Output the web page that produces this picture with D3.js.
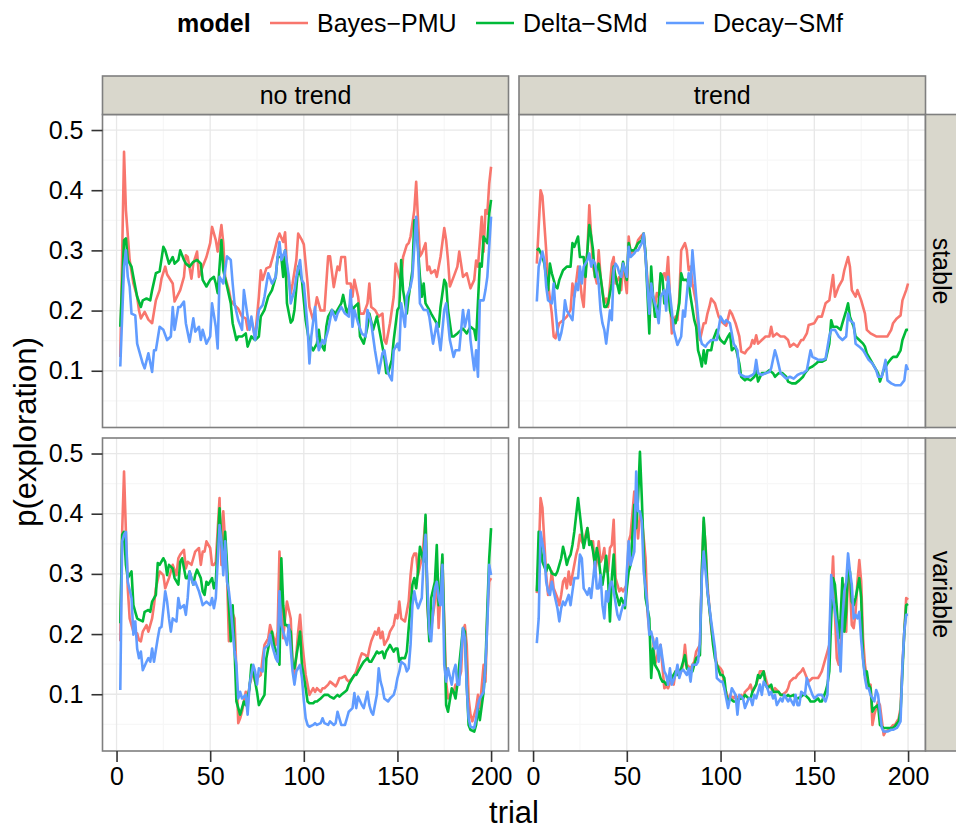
<!DOCTYPE html>
<html><head><meta charset="utf-8">
<script src="https://cdn.jsdelivr.net/npm/d3@7"></script>
<style>
body{margin:0;background:#fff}
text{font-family:"Liberation Sans",Arial,Helvetica,sans-serif}
</style>
</head><body>
<svg id="chart" width="956" height="829"></svg>
<script>
// ---------- categories / labels ----------
const models = ["Bayes\u2212PMU","Delta\u2212SMd","Decay\u2212SMf"];
const modelColors = ["#F8766D","#00BA38","#619CFF"];
const trendLevels = ["no trend","trend"];
const noiseLevels = ["stable","variable"];
const xTicks = [0,50,100,150,200];
const yTicks = [0.1,0.2,0.3,0.4,0.5];
const xMinor = [25,75,125,175];
const yMinor = [0.05,0.15,0.25,0.35,0.45];

// ---------- series: [trial, p(exploration)] ----------
// no trend / stable
const noTrendStableBayes = [[2,0.123],[4,0.464],[5,0.367],[7,0.284],[9,0.245],[11,0.223],[12,0.200],[13,0.187],[15,0.198],[17,0.185],[19,0.179],[21,0.217],[23,0.234],[24,0.253],[26,0.273],[27,0.260],[30,0.245],[31,0.215],[34,0.234],[36,0.256],[37,0.292],[38,0.289],[40,0.253],[41,0.278],[43,0.298],[44,0.256],[46,0.273],[48,0.289],[50,0.312],[51,0.339],[53,0.317],[54,0.298],[56,0.342],[57,0.312],[58,0.256],[60,0.234],[61,0.217],[63,0.209],[65,0.203],[67,0.190],[69,0.187],[70,0.168],[72,0.184],[74,0.156],[76,0.223],[77,0.267],[78,0.251],[80,0.270],[82,0.273],[84,0.295],[86,0.320],[87,0.328],[89,0.314],[90,0.330],[91,0.273],[93,0.228],[94,0.245],[96,0.284],[97,0.328],[99,0.317],[100,0.310],[102,0.245],[103,0.206],[105,0.184],[107,0.222],[109,0.200],[111,0.200],[113,0.290],[114,0.290],[116,0.239],[118,0.273],[119,0.267],[120,0.289],[122,0.289],[123,0.245],[125,0.245],[126,0.223],[127,0.251],[129,0.223],[130,0.195],[132,0.195],[134,0.212],[135,0.245],[136,0.206],[138,0.201],[140,0.190],[142,0.195],[143,0.151],[144,0.145],[146,0.179],[148,0.223],[149,0.278],[151,0.256],[152,0.245],[153,0.289],[155,0.309],[156,0.312],[157,0.323],[159,0.367],[160,0.414],[161,0.350],[162,0.290],[163,0.295],[165,0.312],[166,0.267],[167,0.273],[168,0.262],[170,0.267],[171,0.256],[173,0.289],[175,0.337],[176,0.317],[177,0.284],[178,0.240],[180,0.256],[182,0.273],[183,0.298],[185,0.256],[187,0.262],[189,0.237],[191,0.251],[192,0.283],[193,0.273],[195,0.356],[196,0.298],[197,0.367],[198,0.361],[199,0.411],[200,0.439]];
const noTrendStableDelta = [[2,0.173],[4,0.317],[5,0.320],[6,0.284],[8,0.273],[9,0.256],[11,0.223],[13,0.206],[14,0.217],[16,0.220],[18,0.217],[19,0.234],[21,0.262],[23,0.265],[25,0.306],[26,0.300],[28,0.278],[30,0.289],[31,0.278],[33,0.284],[34,0.300],[36,0.284],[37,0.278],[39,0.273],[41,0.281],[43,0.284],[45,0.278],[46,0.251],[48,0.240],[50,0.251],[52,0.256],[53,0.245],[54,0.229],[56,0.317],[57,0.267],[59,0.240],[61,0.212],[62,0.179],[64,0.151],[65,0.157],[67,0.157],[69,0.162],[70,0.140],[72,0.157],[74,0.151],[76,0.157],[77,0.190],[79,0.201],[81,0.223],[83,0.234],[85,0.256],[86,0.289],[88,0.289],[89,0.256],[90,0.300],[91,0.212],[93,0.180],[94,0.184],[95,0.201],[97,0.273],[99,0.250],[101,0.184],[103,0.145],[105,0.134],[107,0.145],[108,0.168],[109,0.145],[111,0.134],[112,0.173],[113,0.190],[115,0.201],[117,0.195],[118,0.201],[120,0.212],[121,0.226],[123,0.195],[125,0.212],[126,0.201],[127,0.206],[129,0.212],[130,0.157],[132,0.145],[134,0.173],[135,0.195],[137,0.168],[139,0.190],[141,0.157],[143,0.123],[144,0.096],[145,0.096],[147,0.118],[148,0.151],[150,0.201],[151,0.206],[152,0.284],[153,0.234],[155,0.195],[156,0.223],[157,0.245],[158,0.267],[159,0.350],[160,0.350],[162,0.256],[163,0.223],[164,0.245],[165,0.212],[167,0.201],[168,0.195],[170,0.184],[172,0.173],[173,0.206],[175,0.251],[176,0.245],[177,0.201],[179,0.157],[180,0.157],[182,0.162],[184,0.168],[185,0.170],[187,0.162],[189,0.173],[191,0.168],[192,0.151],[194,0.278],[195,0.273],[196,0.323],[198,0.312],[199,0.361],[200,0.384]];
const noTrendStableDecay = [[2,0.107],[4,0.273],[5,0.300],[6,0.256],[7,0.240],[8,0.195],[10,0.192],[11,0.145],[12,0.134],[14,0.112],[15,0.104],[17,0.129],[19,0.098],[20,0.134],[21,0.134],[23,0.173],[25,0.168],[27,0.151],[29,0.157],[30,0.206],[31,0.168],[33,0.206],[34,0.206],[36,0.215],[37,0.179],[39,0.148],[41,0.187],[42,0.165],[44,0.173],[45,0.151],[46,0.168],[48,0.145],[50,0.157],[51,0.212],[53,0.173],[54,0.137],[55,0.256],[57,0.245],[59,0.290],[61,0.284],[62,0.245],[63,0.212],[65,0.184],[67,0.168],[68,0.234],[70,0.190],[71,0.168],[72,0.190],[74,0.151],[76,0.201],[78,0.209],[79,0.223],[81,0.262],[83,0.245],[85,0.256],[86,0.290],[87,0.314],[88,0.284],[90,0.300],[92,0.256],[93,0.212],[95,0.234],[96,0.256],[98,0.284],[99,0.250],[100,0.245],[102,0.173],[103,0.112],[104,0.157],[106,0.206],[107,0.157],[108,0.134],[110,0.151],[111,0.145],[113,0.168],[115,0.201],[117,0.184],[118,0.195],[120,0.206],[122,0.195],[124,0.190],[125,0.234],[126,0.173],[127,0.201],[129,0.179],[131,0.162],[133,0.157],[134,0.201],[136,0.179],[138,0.134],[140,0.096],[142,0.129],[143,0.134],[145,0.096],[147,0.084],[148,0.134],[150,0.145],[151,0.134],[152,0.212],[154,0.173],[155,0.223],[157,0.240],[158,0.256],[160,0.356],[161,0.300],[162,0.212],[164,0.201],[166,0.201],[167,0.190],[169,0.145],[171,0.179],[173,0.134],[175,0.201],[176,0.212],[178,0.151],[180,0.123],[181,0.134],[183,0.134],[185,0.201],[186,0.173],[188,0.201],[189,0.151],[191,0.101],[192,0.134],[193,0.090],[194,0.217],[196,0.217],[197,0.234],[198,0.256],[200,0.356]];

// trend / stable
const trendStableBayes = [[2,0.278],[4,0.400],[5,0.390],[6,0.345],[7,0.300],[8,0.245],[10,0.195],[11,0.157],[12,0.154],[13,0.168],[14,0.179],[16,0.184],[18,0.190],[20,0.201],[21,0.245],[22,0.223],[24,0.273],[25,0.251],[26,0.223],[27,0.206],[28,0.267],[29,0.300],[30,0.375],[31,0.323],[32,0.273],[34,0.245],[35,0.300],[36,0.256],[38,0.212],[39,0.220],[40,0.206],[42,0.278],[43,0.289],[44,0.245],[46,0.256],[47,0.234],[48,0.278],[50,0.229],[51,0.323],[52,0.295],[54,0.300],[55,0.306],[56,0.317],[58,0.325],[59,0.328],[60,0.289],[62,0.217],[63,0.245],[64,0.223],[65,0.206],[66,0.229],[67,0.223],[68,0.256],[70,0.262],[71,0.251],[72,0.289],[73,0.223],[74,0.162],[76,0.190],[77,0.184],[78,0.223],[79,0.300],[81,0.312],[82,0.300],[83,0.267],[84,0.273],[85,0.245],[87,0.212],[88,0.173],[89,0.151],[91,0.179],[92,0.179],[93,0.195],[94,0.206],[95,0.220],[97,0.212],[99,0.190],[101,0.180],[103,0.175],[105,0.200],[106,0.195],[108,0.179],[110,0.157],[111,0.132],[113,0.129],[114,0.134],[116,0.140],[117,0.151],[118,0.145],[119,0.159],[120,0.145],[122,0.151],[124,0.157],[126,0.157],[127,0.173],[128,0.157],[130,0.162],[132,0.157],[134,0.157],[136,0.151],[137,0.140],[139,0.145],[141,0.140],[143,0.151],[144,0.151],[146,0.162],[147,0.176],[150,0.179],[152,0.190],[154,0.190],[156,0.212],[158,0.217],[160,0.259],[161,0.223],[163,0.240],[165,0.251],[166,0.267],[168,0.289],[169,0.273],[170,0.234],[172,0.223],[173,0.234],[175,0.217],[177,0.195],[178,0.168],[180,0.162],[183,0.157],[185,0.157],[189,0.157],[191,0.168],[192,0.179],[194,0.187],[196,0.192],[197,0.217],[199,0.234],[200,0.245]];
const trendStableDelta = [[2,0.300],[3,0.303],[5,0.289],[6,0.278],[7,0.256],[8,0.234],[9,0.278],[10,0.262],[12,0.240],[13,0.237],[14,0.251],[16,0.267],[17,0.270],[18,0.273],[20,0.273],[21,0.312],[22,0.306],[24,0.323],[25,0.289],[27,0.289],[28,0.256],[29,0.300],[30,0.342],[31,0.323],[32,0.300],[33,0.256],[35,0.278],[36,0.256],[38,0.206],[39,0.206],[40,0.212],[42,0.245],[43,0.273],[44,0.256],[46,0.229],[47,0.262],[48,0.281],[50,0.251],[51,0.312],[52,0.300],[54,0.300],[55,0.306],[56,0.312],[58,0.317],[59,0.328],[60,0.295],[62,0.162],[63,0.273],[64,0.223],[65,0.190],[66,0.190],[67,0.212],[68,0.262],[69,0.256],[70,0.212],[72,0.245],[73,0.201],[74,0.190],[76,0.179],[78,0.212],[79,0.262],[80,0.251],[82,0.251],[83,0.245],[84,0.223],[86,0.184],[87,0.173],[88,0.134],[89,0.123],[90,0.107],[91,0.134],[92,0.112],[93,0.134],[95,0.134],[96,0.151],[98,0.168],[99,0.157],[100,0.151],[102,0.145],[104,0.157],[105,0.162],[106,0.134],[108,0.140],[110,0.112],[111,0.090],[113,0.084],[114,0.087],[116,0.084],[118,0.090],[119,0.101],[120,0.082],[122,0.096],[124,0.096],[126,0.101],[128,0.096],[129,0.090],[131,0.096],[133,0.096],[135,0.090],[136,0.082],[138,0.079],[140,0.079],[142,0.084],[144,0.090],[145,0.096],[147,0.104],[149,0.107],[151,0.112],[152,0.115],[154,0.115],[156,0.118],[158,0.145],[159,0.184],[160,0.173],[162,0.173],[164,0.168],[165,0.179],[167,0.200],[168,0.212],[169,0.190],[171,0.173],[172,0.157],[174,0.151],[176,0.145],[177,0.140],[178,0.129],[180,0.118],[182,0.107],[184,0.096],[185,0.082],[187,0.101],[189,0.112],[191,0.120],[192,0.123],[194,0.123],[196,0.134],[197,0.151],[199,0.168],[200,0.168]];
const trendStableDecay = [[2,0.215],[3,0.273],[5,0.298],[6,0.284],[7,0.240],[8,0.217],[10,0.212],[11,0.245],[12,0.201],[13,0.168],[14,0.151],[15,0.162],[16,0.179],[17,0.217],[18,0.200],[19,0.195],[21,0.184],[22,0.223],[23,0.245],[24,0.234],[25,0.273],[26,0.245],[27,0.273],[29,0.284],[30,0.295],[31,0.273],[32,0.284],[33,0.278],[35,0.245],[36,0.200],[37,0.179],[38,0.168],[39,0.145],[41,0.200],[42,0.184],[43,0.267],[44,0.278],[45,0.273],[46,0.262],[47,0.256],[48,0.278],[50,0.256],[51,0.306],[52,0.289],[54,0.295],[55,0.300],[56,0.300],[58,0.312],[59,0.328],[60,0.289],[62,0.195],[63,0.245],[64,0.223],[66,0.200],[67,0.179],[68,0.223],[70,0.234],[71,0.200],[72,0.256],[74,0.200],[75,0.168],[77,0.143],[79,0.157],[80,0.200],[81,0.190],[83,0.262],[84,0.240],[85,0.300],[87,0.223],[88,0.190],[89,0.157],[90,0.145],[92,0.140],[93,0.145],[95,0.151],[98,0.151],[100,0.190],[102,0.179],[103,0.184],[105,0.179],[107,0.145],[109,0.134],[110,0.096],[111,0.093],[113,0.090],[115,0.090],[117,0.093],[118,0.096],[119,0.118],[120,0.096],[122,0.093],[124,0.096],[126,0.098],[127,0.104],[129,0.134],[130,0.123],[132,0.096],[134,0.090],[135,0.087],[137,0.090],[139,0.087],[141,0.093],[143,0.096],[144,0.096],[146,0.101],[148,0.134],[149,0.123],[151,0.120],[152,0.118],[154,0.118],[156,0.120],[158,0.157],[159,0.168],[161,0.168],[163,0.157],[165,0.151],[167,0.157],[168,0.195],[169,0.184],[171,0.179],[172,0.145],[174,0.140],[176,0.134],[177,0.129],[179,0.118],[181,0.112],[183,0.101],[184,0.090],[186,0.090],[188,0.118],[189,0.084],[191,0.079],[193,0.076],[196,0.076],[198,0.084],[199,0.109],[200,0.101]];

// no trend / variable
const noTrendVariableBayes = [[2,0.188],[3,0.370],[4,0.470],[5,0.370],[6,0.276],[7,0.226],[9,0.204],[11,0.201],[12,0.190],[13,0.188],[14,0.204],[16,0.215],[17,0.204],[19,0.226],[20,0.248],[21,0.276],[23,0.304],[25,0.298],[26,0.276],[28,0.293],[29,0.304],[30,0.315],[32,0.298],[33,0.326],[34,0.332],[36,0.340],[37,0.309],[38,0.320],[40,0.315],[41,0.326],[42,0.337],[44,0.343],[45,0.315],[46,0.337],[47,0.337],[48,0.354],[50,0.343],[51,0.315],[52,0.315],[53,0.320],[55,0.426],[56,0.315],[57,0.404],[59,0.298],[60,0.188],[61,0.243],[63,0.226],[64,0.138],[65,0.052],[66,0.060],[67,0.071],[69,0.104],[70,0.077],[71,0.116],[73,0.138],[74,0.121],[75,0.127],[77,0.132],[78,0.160],[79,0.182],[81,0.193],[82,0.215],[83,0.204],[85,0.182],[86,0.204],[87,0.337],[89,0.193],[90,0.226],[91,0.254],[93,0.226],[94,0.149],[95,0.127],[97,0.204],[98,0.232],[99,0.190],[101,0.132],[102,0.116],[103,0.099],[105,0.110],[106,0.104],[107,0.110],[109,0.104],[110,0.110],[111,0.110],[113,0.116],[114,0.121],[116,0.116],[117,0.113],[118,0.119],[119,0.127],[120,0.127],[122,0.130],[123,0.124],[124,0.121],[126,0.127],[127,0.132],[128,0.138],[130,0.160],[131,0.168],[133,0.165],[134,0.160],[135,0.176],[136,0.188],[138,0.204],[139,0.199],[140,0.210],[141,0.193],[142,0.204],[143,0.182],[145,0.193],[146,0.204],[148,0.215],[149,0.232],[150,0.226],[151,0.254],[152,0.226],[154,0.221],[155,0.237],[156,0.254],[157,0.298],[158,0.326],[159,0.334],[160,0.334],[161,0.298],[163,0.326],[164,0.354],[165,0.393],[166,0.248],[167,0.199],[168,0.210],[170,0.254],[171,0.309],[172,0.210],[173,0.271],[174,0.326],[176,0.121],[177,0.093],[178,0.099],[180,0.104],[181,0.116],[182,0.116],[184,0.138],[185,0.204],[186,0.215],[187,0.182],[188,0.093],[189,0.066],[190,0.055],[192,0.077],[193,0.099],[194,0.077],[196,0.149],[197,0.121],[198,0.232],[199,0.287],[200,0.293]];
const noTrendVariableDelta = [[2,0.218],[3,0.365],[4,0.370],[5,0.315],[6,0.293],[8,0.304],[9,0.248],[10,0.237],[11,0.226],[12,0.224],[14,0.221],[15,0.237],[17,0.240],[18,0.237],[19,0.254],[21,0.265],[22,0.318],[23,0.315],[25,0.326],[26,0.320],[27,0.298],[28,0.315],[30,0.309],[31,0.293],[33,0.282],[34,0.320],[35,0.326],[37,0.293],[38,0.293],[39,0.304],[41,0.282],[42,0.298],[43,0.307],[45,0.293],[46,0.271],[47,0.265],[48,0.287],[49,0.282],[51,0.293],[52,0.276],[53,0.287],[55,0.409],[56,0.354],[57,0.326],[58,0.370],[59,0.315],[60,0.248],[61,0.188],[62,0.248],[63,0.176],[64,0.088],[66,0.066],[67,0.077],[68,0.088],[69,0.082],[71,0.110],[72,0.149],[73,0.138],[75,0.104],[76,0.082],[77,0.088],[79,0.099],[80,0.160],[82,0.193],[83,0.204],[84,0.182],[86,0.165],[87,0.149],[88,0.326],[89,0.248],[90,0.215],[91,0.215],[93,0.204],[94,0.149],[95,0.143],[97,0.182],[98,0.204],[99,0.149],[101,0.110],[102,0.088],[103,0.085],[105,0.085],[106,0.088],[107,0.088],[109,0.093],[110,0.096],[111,0.099],[113,0.099],[114,0.096],[116,0.093],[117,0.096],[118,0.099],[119,0.096],[120,0.099],[122,0.104],[123,0.107],[124,0.116],[126,0.127],[127,0.132],[128,0.132],[129,0.138],[131,0.149],[132,0.154],[134,0.160],[135,0.154],[136,0.154],[138,0.165],[139,0.171],[140,0.168],[142,0.171],[143,0.160],[144,0.171],[145,0.176],[146,0.182],[148,0.171],[149,0.176],[150,0.176],[151,0.154],[152,0.160],[154,0.160],[155,0.171],[156,0.210],[158,0.282],[159,0.293],[160,0.276],[161,0.304],[162,0.345],[164,0.320],[165,0.398],[166,0.254],[167,0.188],[168,0.260],[170,0.287],[171,0.348],[172,0.248],[173,0.271],[174,0.332],[175,0.204],[176,0.082],[177,0.071],[179,0.110],[180,0.104],[181,0.093],[182,0.116],[183,0.149],[185,0.210],[186,0.204],[187,0.116],[188,0.049],[189,0.041],[191,0.038],[192,0.049],[193,0.077],[194,0.057],[196,0.104],[197,0.149],[198,0.243],[199,0.326],[200,0.376]];
const noTrendVariableDecay = [[2,0.107],[3,0.354],[4,0.365],[5,0.370],[6,0.287],[8,0.260],[9,0.199],[10,0.221],[11,0.176],[12,0.160],[13,0.171],[14,0.140],[16,0.154],[17,0.160],[18,0.154],[19,0.176],[20,0.154],[22,0.193],[23,0.210],[24,0.212],[26,0.271],[27,0.254],[28,0.226],[29,0.204],[30,0.226],[32,0.221],[33,0.260],[34,0.243],[36,0.248],[37,0.232],[38,0.260],[39,0.304],[41,0.282],[42,0.287],[44,0.271],[45,0.260],[46,0.248],[48,0.254],[50,0.248],[51,0.260],[52,0.243],[53,0.260],[55,0.381],[56,0.354],[57,0.298],[58,0.354],[59,0.287],[60,0.271],[61,0.243],[63,0.171],[64,0.149],[65,0.093],[66,0.104],[67,0.093],[69,0.099],[70,0.066],[71,0.116],[73,0.149],[74,0.138],[75,0.116],[76,0.143],[78,0.138],[79,0.176],[81,0.182],[82,0.199],[83,0.182],[85,0.160],[86,0.154],[87,0.271],[88,0.215],[89,0.204],[91,0.182],[92,0.215],[94,0.138],[95,0.116],[96,0.138],[98,0.149],[99,0.127],[100,0.090],[101,0.060],[102,0.049],[103,0.046],[105,0.049],[106,0.052],[107,0.049],[109,0.052],[110,0.060],[111,0.052],[113,0.049],[114,0.055],[116,0.049],[117,0.052],[118,0.071],[119,0.060],[120,0.049],[122,0.049],[123,0.060],[124,0.071],[126,0.077],[127,0.102],[128,0.077],[129,0.096],[131,0.082],[132,0.077],[134,0.104],[135,0.082],[136,0.071],[137,0.066],[139,0.099],[140,0.143],[141,0.121],[142,0.110],[143,0.093],[145,0.088],[146,0.093],[148,0.099],[149,0.110],[150,0.127],[151,0.138],[152,0.154],[154,0.149],[155,0.138],[156,0.143],[157,0.182],[158,0.248],[159,0.271],[160,0.254],[161,0.243],[163,0.260],[164,0.326],[165,0.365],[166,0.282],[167,0.204],[168,0.188],[169,0.237],[170,0.276],[171,0.287],[172,0.260],[173,0.248],[174,0.315],[175,0.149],[176,0.121],[177,0.143],[179,0.116],[180,0.138],[181,0.149],[182,0.116],[183,0.116],[185,0.210],[186,0.193],[187,0.110],[188,0.060],[189,0.046],[191,0.044],[192,0.060],[193,0.082],[194,0.093],[196,0.104],[197,0.149],[198,0.215],[199,0.315],[200,0.298]];

// trend / variable
const trendVariableBayes = [[2,0.268],[3,0.326],[4,0.426],[5,0.410],[6,0.354],[7,0.298],[8,0.265],[9,0.276],[10,0.304],[11,0.276],[13,0.260],[14,0.248],[15,0.265],[16,0.287],[17,0.293],[18,0.276],[19,0.304],[20,0.282],[22,0.315],[23,0.332],[24,0.343],[25,0.365],[26,0.354],[27,0.348],[28,0.365],[29,0.376],[30,0.354],[32,0.354],[33,0.304],[34,0.320],[35,0.354],[36,0.320],[37,0.326],[38,0.343],[39,0.304],[40,0.304],[41,0.343],[42,0.348],[43,0.390],[44,0.293],[45,0.282],[46,0.271],[47,0.276],[48,0.271],[50,0.282],[51,0.354],[52,0.365],[54,0.437],[55,0.404],[56,0.359],[57,0.398],[58,0.393],[60,0.326],[61,0.237],[62,0.204],[64,0.193],[65,0.149],[66,0.160],[67,0.176],[68,0.182],[70,0.110],[71,0.113],[72,0.110],[74,0.127],[75,0.116],[76,0.138],[78,0.132],[79,0.138],[80,0.149],[81,0.182],[82,0.149],[84,0.143],[85,0.149],[86,0.154],[87,0.171],[89,0.182],[90,0.304],[91,0.387],[92,0.348],[93,0.282],[95,0.210],[96,0.188],[97,0.171],[98,0.149],[100,0.143],[101,0.138],[102,0.110],[103,0.104],[104,0.088],[105,0.099],[107,0.093],[108,0.099],[109,0.093],[111,0.099],[112,0.093],[113,0.104],[115,0.110],[116,0.116],[117,0.104],[119,0.116],[120,0.127],[121,0.138],[123,0.138],[124,0.127],[125,0.116],[127,0.110],[128,0.104],[129,0.110],[131,0.104],[132,0.099],[133,0.099],[135,0.104],[136,0.110],[137,0.121],[139,0.127],[140,0.127],[141,0.132],[143,0.138],[144,0.143],[146,0.127],[147,0.121],[149,0.127],[150,0.127],[152,0.127],[153,0.132],[154,0.138],[156,0.160],[157,0.171],[158,0.182],[159,0.260],[160,0.329],[161,0.232],[162,0.160],[163,0.149],[164,0.176],[165,0.248],[166,0.282],[167,0.204],[168,0.310],[169,0.280],[170,0.215],[171,0.210],[172,0.237],[173,0.287],[174,0.323],[175,0.287],[176,0.193],[177,0.149],[178,0.127],[179,0.110],[180,0.116],[181,0.049],[182,0.066],[184,0.088],[185,0.082],[187,0.032],[188,0.038],[190,0.041],[192,0.049],[193,0.049],[195,0.060],[196,0.077],[197,0.149],[198,0.204],[199,0.260],[200,0.257]];
const trendVariableDelta = [[2,0.271],[3,0.370],[4,0.348],[5,0.320],[7,0.304],[8,0.315],[9,0.309],[10,0.301],[12,0.298],[13,0.304],[14,0.315],[15,0.326],[16,0.345],[17,0.332],[18,0.315],[19,0.326],[20,0.332],[21,0.348],[22,0.370],[23,0.398],[24,0.426],[25,0.398],[26,0.370],[27,0.343],[28,0.359],[29,0.376],[30,0.348],[31,0.354],[32,0.337],[33,0.315],[34,0.343],[35,0.326],[36,0.298],[37,0.282],[38,0.304],[39,0.330],[40,0.293],[41,0.221],[42,0.293],[43,0.332],[44,0.271],[45,0.260],[46,0.248],[47,0.260],[48,0.254],[49,0.243],[50,0.276],[51,0.304],[52,0.315],[54,0.415],[55,0.376],[56,0.426],[57,0.503],[58,0.426],[59,0.337],[60,0.260],[62,0.226],[63,0.127],[64,0.176],[65,0.149],[67,0.138],[68,0.127],[69,0.121],[70,0.121],[71,0.116],[73,0.127],[74,0.127],[76,0.138],[77,0.132],[78,0.138],[79,0.143],[80,0.154],[81,0.165],[82,0.143],[84,0.138],[85,0.138],[86,0.149],[87,0.160],[89,0.165],[90,0.304],[91,0.393],[92,0.343],[93,0.271],[95,0.215],[96,0.182],[97,0.160],[98,0.149],[100,0.132],[101,0.132],[102,0.127],[103,0.099],[104,0.088],[105,0.093],[107,0.088],[108,0.088],[109,0.091],[111,0.093],[112,0.093],[113,0.099],[115,0.093],[116,0.093],[117,0.104],[119,0.116],[120,0.132],[121,0.127],[123,0.138],[124,0.116],[125,0.110],[127,0.116],[128,0.104],[129,0.104],[131,0.104],[132,0.099],[133,0.099],[135,0.096],[136,0.099],[137,0.096],[139,0.099],[140,0.093],[141,0.093],[143,0.096],[144,0.099],[145,0.099],[147,0.093],[148,0.088],[150,0.088],[152,0.093],[153,0.088],[154,0.088],[156,0.104],[157,0.116],[158,0.138],[159,0.226],[160,0.293],[161,0.282],[162,0.243],[163,0.193],[164,0.226],[165,0.293],[166,0.204],[167,0.237],[168,0.315],[169,0.304],[170,0.254],[171,0.248],[172,0.260],[173,0.276],[174,0.293],[175,0.260],[176,0.160],[177,0.132],[178,0.138],[179,0.116],[180,0.110],[181,0.071],[182,0.077],[184,0.082],[185,0.049],[187,0.044],[188,0.044],[190,0.044],[192,0.044],[193,0.047],[195,0.055],[196,0.071],[197,0.138],[198,0.204],[199,0.248],[200,0.250]];
const trendVariableDecay = [[2,0.185],[3,0.226],[4,0.370],[6,0.332],[7,0.287],[8,0.271],[9,0.265],[10,0.287],[11,0.271],[13,0.243],[14,0.221],[15,0.243],[16,0.254],[17,0.248],[19,0.265],[20,0.248],[21,0.271],[22,0.293],[24,0.293],[25,0.332],[26,0.326],[27,0.276],[28,0.271],[29,0.265],[30,0.276],[31,0.260],[33,0.320],[34,0.276],[35,0.276],[36,0.298],[37,0.248],[38,0.226],[39,0.271],[40,0.254],[41,0.282],[42,0.287],[43,0.271],[45,0.232],[46,0.224],[47,0.237],[48,0.248],[49,0.248],[50,0.304],[51,0.354],[52,0.315],[54,0.337],[55,0.470],[56,0.404],[57,0.404],[58,0.387],[59,0.304],[61,0.248],[62,0.199],[63,0.204],[65,0.176],[66,0.193],[67,0.154],[68,0.182],[70,0.138],[71,0.132],[72,0.116],[73,0.143],[74,0.116],[76,0.132],[77,0.149],[78,0.127],[79,0.138],[80,0.141],[82,0.132],[83,0.143],[84,0.121],[85,0.149],[87,0.149],[88,0.154],[89,0.188],[90,0.293],[91,0.337],[92,0.304],[93,0.271],[95,0.221],[96,0.199],[97,0.176],[98,0.127],[100,0.121],[101,0.121],[102,0.110],[104,0.077],[105,0.093],[106,0.110],[108,0.099],[109,0.066],[110,0.099],[112,0.093],[113,0.077],[115,0.093],[116,0.093],[117,0.082],[118,0.099],[119,0.093],[120,0.104],[121,0.116],[122,0.099],[123,0.121],[125,0.110],[126,0.099],[127,0.104],[128,0.093],[129,0.099],[130,0.082],[132,0.093],[133,0.088],[134,0.099],[136,0.088],[137,0.093],[139,0.082],[140,0.099],[141,0.082],[142,0.082],[143,0.104],[145,0.099],[146,0.127],[147,0.116],[149,0.099],[150,0.093],[152,0.099],[154,0.099],[155,0.093],[156,0.088],[157,0.099],[158,0.193],[159,0.298],[160,0.260],[162,0.215],[163,0.182],[164,0.138],[165,0.226],[166,0.271],[167,0.287],[168,0.334],[169,0.304],[170,0.282],[171,0.226],[172,0.232],[173,0.226],[174,0.237],[175,0.190],[176,0.157],[177,0.127],[178,0.110],[179,0.110],[180,0.099],[182,0.088],[183,0.107],[184,0.099],[185,0.071],[186,0.044],[187,0.038],[189,0.038],[191,0.041],[192,0.041],[194,0.044],[195,0.049],[196,0.055],[197,0.149],[198,0.204],[199,0.232],[200,0.232]];

// facet table built from the arrays above
const panels = [
  {col:0,row:0,series:[noTrendStableBayes,noTrendStableDelta,noTrendStableDecay]},
  {col:1,row:0,series:[trendStableBayes,trendStableDelta,trendStableDecay]},
  {col:0,row:1,series:[noTrendVariableBayes,noTrendVariableDelta,noTrendVariableDecay]},
  {col:1,row:1,series:[trendVariableBayes,trendVariableDelta,trendVariableDecay]}
];

// ---------- layout ----------
const cols = [{x:102.5,w:406},{x:519,w:406.5}];
const rows = [{y:114.5,h:313},{y:438,h:313}];
const stripTop = 76, stripRightX = 925.5, stripW = 38;
const FONT = 25, TITLE = 31;

const svg = d3.select("#chart");
svg.append("rect").attr("width",956).attr("height",829).attr("fill","#fff");
const defs = svg.append("defs");

panels.forEach((p,i)=>{
  const c = cols[p.col], r = rows[p.row];
  const x = d3.scaleLinear().domain([-7.5,209.3]).range([0,c.w]);
  const y = d3.scaleLinear().domain([0.0057,0.5258]).range([r.h,0]);
  const g = svg.append("g").attr("transform",`translate(${c.x},${r.y})`);
  defs.append("clipPath").attr("id","clip"+i).append("rect").attr("width",c.w).attr("height",r.h);
  g.append("rect").attr("width",c.w).attr("height",r.h).attr("fill","#fff");
  // minor grid
  g.selectAll(".mx").data(xMinor).join("line").attr("x1",d=>x(d)).attr("x2",d=>x(d)).attr("y1",0).attr("y2",r.h).attr("stroke","#F7F7F7").attr("stroke-width",1.2);
  g.selectAll(".my").data(yMinor).join("line").attr("y1",d=>y(d)).attr("y2",d=>y(d)).attr("x1",0).attr("x2",c.w).attr("stroke","#F7F7F7").attr("stroke-width",1.2);
  // major grid
  g.selectAll(".gx").data(xTicks).join("line").attr("x1",d=>x(d)).attr("x2",d=>x(d)).attr("y1",0).attr("y2",r.h).attr("stroke","#E8E8E8").attr("stroke-width",1.3);
  g.selectAll(".gy").data(yTicks).join("line").attr("y1",d=>y(d)).attr("y2",d=>y(d)).attr("x1",0).attr("x2",c.w).attr("stroke","#E8E8E8").attr("stroke-width",1.3);
  // lines
  const line = d3.line().x(d=>x(d[0])).y(d=>y(d[1]));
  const lg = g.append("g").attr("clip-path",`url(#clip${i})`);
  p.series.forEach((s,k)=>{
    lg.append("path").datum(s).attr("d",line).attr("fill","none")
      .attr("stroke",modelColors[k]).attr("stroke-width",2.6).attr("stroke-linejoin","round");
  });
  g.append("rect").attr("width",c.w).attr("height",r.h).attr("fill","none").attr("stroke","#7F7F7F").attr("stroke-width",1.6);

  // axes
  if(p.col===0){
    const ax = g.append("g").call(d3.axisLeft(y).tickValues(yTicks).tickFormat(d3.format(".1f")).tickSize(11).tickPadding(8).tickSizeOuter(0));
    ax.select(".domain").remove();
    ax.selectAll("line").attr("stroke","#333").attr("stroke-width",1.6);
    ax.selectAll("text").attr("font-size",FONT).attr("fill","#000").attr("font-family","Liberation Sans, Arial, sans-serif");
  }
  if(p.row===1){
    const ax = g.append("g").attr("transform",`translate(0,${r.h})`).call(d3.axisBottom(x).tickValues(xTicks).tickFormat(d3.format("d")).tickSize(11).tickPadding(5).tickSizeOuter(0));
    ax.select(".domain").remove();
    ax.selectAll("line").attr("stroke","#333").attr("stroke-width",1.6);
    ax.selectAll("text").attr("font-size",FONT).attr("fill","#000").attr("font-family","Liberation Sans, Arial, sans-serif");
  }
});

// top strips
cols.forEach((c,j)=>{
  svg.append("rect").attr("x",c.x).attr("y",stripTop).attr("width",c.w).attr("height",rows[0].y-stripTop)
    .attr("fill","#D9D7CC").attr("stroke","#7F7F7F").attr("stroke-width",1.6);
  svg.append("text").attr("x",c.x+c.w/2).attr("y",104).attr("text-anchor","middle")
    .attr("font-size",FONT).attr("fill","#000").text(trendLevels[j]);
});
// right strips
rows.forEach((r,j)=>{
  svg.append("rect").attr("x",stripRightX).attr("y",r.y).attr("width",stripW).attr("height",r.h)
    .attr("fill","#D9D7CC").attr("stroke","#7F7F7F").attr("stroke-width",1.6);
  svg.append("text").attr("transform",`translate(${stripRightX+7.5},${r.y+r.h/2}) rotate(90)`)
    .attr("text-anchor","middle").attr("font-size",FONT).attr("fill","#000").text(noiseLevels[j]);
});

// axis titles
svg.append("text").attr("x",514).attr("y",823).attr("text-anchor","middle").attr("font-size",TITLE).attr("fill","#000").text("trial");
svg.append("text").attr("transform","translate(36,432) rotate(-90)").attr("text-anchor","middle").attr("font-size",TITLE).attr("fill","#000").text("p(exploration)");

// legend
const leg = svg.append("g");
leg.append("text").attr("x",177).attr("y",32).attr("font-size",FONT).attr("font-weight","bold").attr("fill","#000").text("model");
const keyX = [270,476,666], labX = [317,523,713];
models.forEach((m,k)=>{
  leg.append("line").attr("x1",keyX[k]).attr("x2",keyX[k]+38).attr("y1",23).attr("y2",23).attr("stroke",modelColors[k]).attr("stroke-width",2.6);
  leg.append("text").attr("x",labX[k]).attr("y",32).attr("font-size",FONT).attr("fill","#000").text(m);
});
</script>
</body></html>
